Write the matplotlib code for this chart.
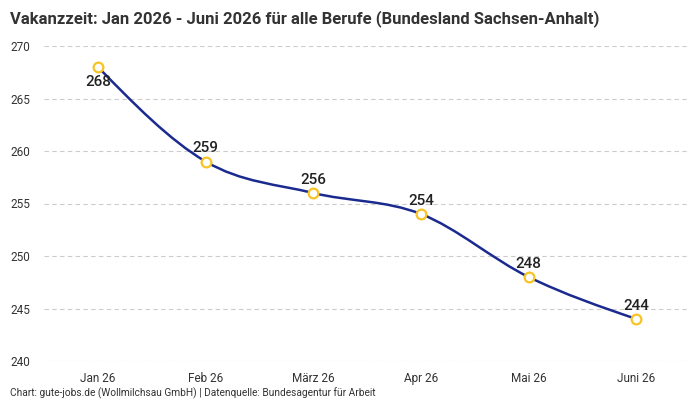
import matplotlib.pyplot as plt
import numpy as np
from matplotlib.path import Path
from matplotlib.patches import PathPatch

months = ["Jan 26", "Feb 26", "März 26", "Apr 26", "Mai 26", "Juni 26"]
werte = [268, 259, 256, 254, 248, 244]
yticks = [240, 245, 250, 255, 260, 265, 270]

plt.rcParams['font.family'] = ['Roboto', 'DejaVu Sans']

linie = "#1b2a8f"
punkt = "#f7c325"


# monotone Tangenten (wie d3 curveMonotoneX)
def tangenten(x, y):
    n = len(x)
    h = np.diff(x)
    s = np.diff(y) / h
    t = np.zeros(n)
    for i in range(1, n - 1):
        p = (s[i-1] * h[i] + s[i] * h[i-1]) / (h[i-1] + h[i])
        t[i] = (np.sign(s[i-1]) + np.sign(s[i])) * min(abs(s[i-1]), abs(s[i]), 0.5 * abs(p))
    t[0] = (3 * s[0] - t[1]) / 2
    t[-1] = (3 * s[-1] - t[-2]) / 2
    return t


fig = plt.figure(figsize=(7, 4), dpi=100)
ax = fig.add_axes([0.063, 0.0975, 0.923, 0.7875])

x = np.arange(len(werte), dtype=float)
y = np.array(werte, dtype=float)
m = tangenten(x, y)
verts = [(x[0], y[0])]
codes = [Path.MOVETO]
for i in range(len(x) - 1):
    h = x[i+1] - x[i]
    verts += [(x[i] + h/3, y[i] + h*m[i]/3), (x[i+1] - h/3, y[i+1] - h*m[i+1]/3), (x[i+1], y[i+1])]
    codes += [Path.CURVE4] * 3
ax.add_patch(PathPatch(Path(verts, codes), facecolor="none", edgecolor=linie, lw=1.8, zorder=3))

ax.plot(x, y, "o", ms=7, mfc="white", mec=punkt, mew=1.6, zorder=4)

for i, v in enumerate(werte):
    if i == 0:
        ax.annotate(str(v), (i, v), xytext=(0, -6), textcoords="offset points",
                    ha="center", va="top", fontsize=11, color="#222222", fontweight="medium")
    else:
        ax.annotate(str(v), (i, v), xytext=(0, 4.5), textcoords="offset points",
                    ha="center", va="bottom", fontsize=11, color="#222222", fontweight="medium")

ax.set_xlim(-0.5, len(werte) - 0.5)
ax.set_ylim(240, 270)
ax.set_xticks(x)
ax.set_xticklabels(months)
ax.set_yticks(yticks)
ax.tick_params(length=0, labelsize=8.5, labelcolor="#333333")
ax.tick_params(axis="y", pad=24)
ax.tick_params(axis="x", pad=8)
for lab in ax.get_yticklabels():
    lab.set_horizontalalignment("left")
ax.grid(axis="y", color="#cccccc", ls=(0, (4, 3)), lw=0.8)
for sp in ax.spines.values():
    sp.set_visible(False)

fig.text(0.014, 0.975, "Vakanzzeit: Jan 2026 - Juni 2026 für alle Berufe (Bundesland Sachsen-Anhalt)",
         fontsize=12, fontweight="bold", color="#333333", va="top", ha="left")
fig.text(0.014, 0.003, "Chart: gute-jobs.de (Wollmilchsau GmbH) | Datenquelle: Bundesagentur für Arbeit",
         fontsize=7.3, color="#333333", va="bottom", ha="left")

fig.savefig("out.png", dpi=100)
